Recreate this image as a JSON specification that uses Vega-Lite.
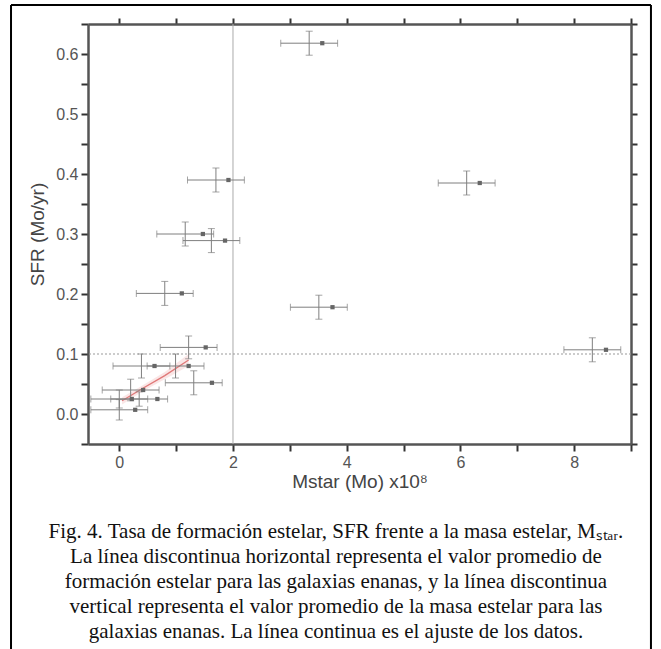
{
  "$schema": "https://vega.github.io/schema/vega-lite/v6.json",
  "width": 543,
  "height": 420,
  "autosize": {"type": "none"},
  "padding": {"left": 88, "top": 24, "right": 30, "bottom": 205},
  "background": "white",
  "title": {
    "text": [
      "Fig. 4. Tasa de formación estelar, SFR frente a la masa estelar, Mₛₜₐᵣ.",
      "La línea discontinua horizontal representa el valor promedio de",
      "formación estelar para las galaxias enanas, y la línea discontinua",
      "vertical representa el valor promedio de la masa estelar para las",
      "galaxias enanas. La línea continua es el ajuste de los datos."
    ],
    "orient": "bottom",
    "anchor": "middle",
    "frame": "bounds",
    "font": "Liberation Serif",
    "fontSize": 21,
    "fontWeight": "normal",
    "color": "#111",
    "lineHeight": 25,
    "offset": -131,
    "dx": 5
  },
  "config": {
    "view": {"stroke": null},
    "font": "Liberation Sans",
    "axis": {
      "domain": true,
      "domainColor": "#555",
      "domainWidth": 2.5,
      "grid": false,
      "ticks": true,
      "tickColor": "#333",
      "tickOpacity": 1,
      "tickWidth": 2,
      "tickSize": 7,
      "labelFont": "Liberation Sans",
      "labelFontSize": 16,
      "labelColor": "#555",
      "titleFont": "Liberation Sans",
      "titleFontSize": 19,
      "titleFontWeight": "normal",
      "titleColor": "#444"
    }
  },
  "datasets": {
    "pts": [
      {"cx": 3.34, "cy": 0.618, "xerr": 0.5, "yerr": 0.02, "mx": 3.57},
      {"cx": 1.70, "cy": 0.390, "xerr": 0.5, "yerr": 0.02, "mx": 1.92},
      {"cx": 6.11, "cy": 0.385, "xerr": 0.5, "yerr": 0.02, "mx": 6.34},
      {"cx": 1.16, "cy": 0.300, "xerr": 0.5, "yerr": 0.02, "mx": 1.47},
      {"cx": 1.62, "cy": 0.289, "xerr": 0.5, "yerr": 0.02, "mx": 1.86},
      {"cx": 0.80, "cy": 0.201, "xerr": 0.5, "yerr": 0.02, "mx": 1.10},
      {"cx": 3.51, "cy": 0.178, "xerr": 0.5, "yerr": 0.02, "mx": 3.75},
      {"cx": 8.32, "cy": 0.107, "xerr": 0.5, "yerr": 0.02, "mx": 8.56},
      {"cx": 1.22, "cy": 0.111, "xerr": 0.5, "yerr": 0.019, "mx": 1.52},
      {"cx": 0.39, "cy": 0.080, "xerr": 0.5, "yerr": 0.02, "mx": 0.62},
      {"cx": 0.99, "cy": 0.080, "xerr": 0.5, "yerr": 0.02, "mx": 1.22},
      {"cx": 1.31, "cy": 0.052, "xerr": 0.5, "yerr": 0.02, "mx": 1.63},
      {"cx": 0.00, "cy": 0.007, "xerr": 0.5, "yerr": 0.017, "mx": 0.28},
      {"cx": 0.00, "cy": 0.025, "xerr": 0.5, "yerr": 0.015, "mx": 0.22},
      {"cx": 0.35, "cy": 0.025, "xerr": 0.5, "yerr": 0.012, "mx": 0.67},
      {"cx": 0.20, "cy": 0.040, "xerr": 0.5, "yerr": 0.018, "mx": 0.42}
    ],
    "fit": [
      {"x": 0.05, "y": 0.022, "lo": 0.016, "hi": 0.028},
      {"x": 0.4, "y": 0.042, "lo": 0.037, "hi": 0.047},
      {"x": 0.8, "y": 0.064, "lo": 0.058, "hi": 0.070},
      {"x": 1.22, "y": 0.090, "lo": 0.080, "hi": 0.100}
    ],
    "one": [{}]
  },
  "layer": [
    {
      "data": {"name": "one"},
      "mark": {"type": "rule", "color": "#aaa", "strokeWidth": 1},
      "encoding": {
        "x": {"datum": 2, "type": "quantitative", "scale": {"domain": [-0.55, 9.0], "nice": false, "zero": false}, "axis": null}
      }
    },
    {
      "data": {"name": "one"},
      "mark": {"type": "rule", "color": "#999", "strokeWidth": 1, "strokeDash": [2, 2]},
      "encoding": {
        "y": {"datum": 0.1, "type": "quantitative", "scale": {"domain": [-0.05, 0.65], "nice": false, "zero": false}, "axis": null}
      }
    },
    {
      "data": {"name": "fit"},
      "mark": {"type": "area", "color": "#f2b8b8", "opacity": 0.35},
      "encoding": {
        "x": {"field": "x", "type": "quantitative", "scale": {"domain": [-0.55, 9.0], "nice": false, "zero": false}, "axis": null},
        "y": {"field": "lo", "type": "quantitative", "scale": {"domain": [-0.05, 0.65], "nice": false, "zero": false}, "axis": null},
        "y2": {"field": "hi"}
      }
    },
    {
      "data": {"name": "fit"},
      "mark": {"type": "line", "color": "#e07878", "strokeWidth": 1.3},
      "encoding": {
        "x": {
          "field": "x",
          "type": "quantitative",
          "scale": {"domain": [-0.55, 9.0], "nice": false, "zero": false},
          "axis": {
            "orient": "bottom",
            "title": "Mstar (Mo) x10⁸",
            "tickCount": 10,
            "labelExpr": "datum.value % 2 == 0 ? datum.label : ''",
            "labelPadding": 3,
            "titlePadding": 2
          }
        },
        "y": {
          "field": "y",
          "type": "quantitative",
          "scale": {"domain": [-0.05, 0.65], "nice": false, "zero": false},
          "axis": {
            "orient": "left",
            "title": "SFR (Mo/yr)",
            "tickCount": 14,
            "labelExpr": "abs(datum.value*10 - round(datum.value*10)) < 0.01 && datum.value > -0.01 && datum.value < 0.61 ? format(datum.value, '.1f') : ''",
            "labelPadding": 3,
            "titlePadding": 8
          }
        }
      }
    },
    {
      "data": {"name": "pts"},
      "mark": {"type": "errorbar", "ticks": true, "size": 7, "thickness": 1, "color": "#7f7f7f"},
      "encoding": {
        "x": {"field": "cx", "type": "quantitative", "scale": {"domain": [-0.55, 9.0], "nice": false, "zero": false}, "axis": null},
        "xError": {"field": "xerr"},
        "y": {"field": "cy", "type": "quantitative", "scale": {"domain": [-0.05, 0.65], "nice": false, "zero": false}, "axis": null}
      }
    },
    {
      "data": {"name": "pts"},
      "mark": {"type": "errorbar", "ticks": true, "size": 7, "thickness": 1, "color": "#7f7f7f"},
      "encoding": {
        "y": {"field": "cy", "type": "quantitative", "scale": {"domain": [-0.05, 0.65], "nice": false, "zero": false}, "axis": null},
        "yError": {"field": "yerr"},
        "x": {"field": "cx", "type": "quantitative", "scale": {"domain": [-0.55, 9.0], "nice": false, "zero": false}, "axis": null}
      }
    },
    {
      "data": {"name": "pts"},
      "mark": {"type": "point", "shape": "square", "size": 18, "filled": true, "color": "#666", "opacity": 1},
      "encoding": {
        "x": {
          "field": "mx",
          "type": "quantitative",
          "scale": {"domain": [-0.55, 9.0], "nice": false, "zero": false},
          "axis": {
            "orient": "top",
            "title": null,
            "labels": false,
            "tickCount": 10,
            "tickSize": 6
          }
        },
        "y": {
          "field": "cy",
          "type": "quantitative",
          "scale": {"domain": [-0.05, 0.65], "nice": false, "zero": false},
          "axis": {
            "orient": "right",
            "title": null,
            "labels": false,
            "tickCount": 14,
            "tickSize": 6
          }
        }
      }
    },
    {
      "data": {"name": "one"},
      "mark": {"type": "rule", "color": "black", "strokeWidth": 2, "clip": false},
      "encoding": {
        "x": {"datum": -1.904, "type": "quantitative", "scale": {"domain": [-0.55, 9.0], "nice": false, "zero": false}, "axis": null},
        "y": {"datum": -0.395, "type": "quantitative", "scale": {"domain": [-0.05, 0.65], "nice": false, "zero": false}, "axis": null},
        "y2": {"datum": 0.6817}
      }
    },
    {
      "data": {"name": "one"},
      "mark": {"type": "rule", "color": "black", "strokeWidth": 2, "clip": false},
      "encoding": {
        "x": {"datum": 9.351, "type": "quantitative", "scale": {"domain": [-0.55, 9.0], "nice": false, "zero": false}, "axis": null},
        "y": {"datum": -0.395, "type": "quantitative", "scale": {"domain": [-0.05, 0.65], "nice": false, "zero": false}, "axis": null},
        "y2": {"datum": 0.6817}
      }
    },
    {
      "data": {"name": "one"},
      "mark": {"type": "rule", "color": "black", "strokeWidth": 2, "clip": false},
      "encoding": {
        "x": {"datum": -1.904, "type": "quantitative", "scale": {"domain": [-0.55, 9.0], "nice": false, "zero": false}, "axis": null},
        "x2": {"datum": 9.351},
        "y": {"datum": 0.6817, "type": "quantitative", "scale": {"domain": [-0.05, 0.65], "nice": false, "zero": false}, "axis": null}
      }
    }
  ],
  "resolve": {"axis": {"x": "independent", "y": "independent"}}
}
